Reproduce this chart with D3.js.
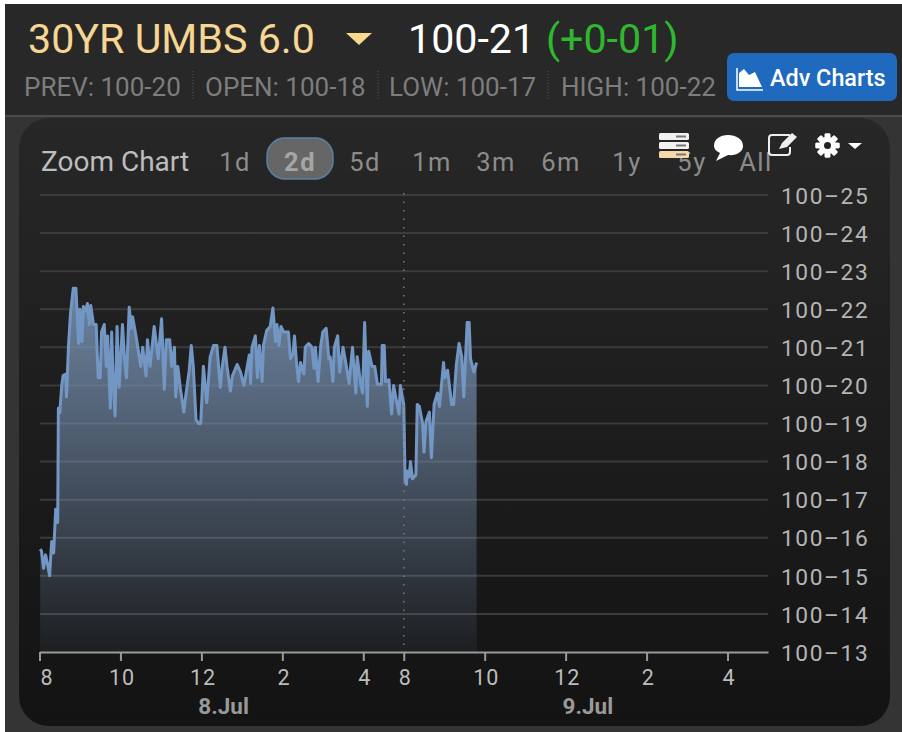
<!DOCTYPE html>
<html><head><meta charset="utf-8">
<style>html,body{margin:0;padding:0;background:#fff}svg{display:block}text{font-family:Roboto,sans-serif}</style>
<script src="https://cdnjs.cloudflare.com/ajax/libs/d3/7.8.5/d3.min.js"></script>
</head><body><div id="c"></div>
<script>
// minutes since the 8:00 open of the first session (each session 8:00-17:00 = 540 min)
const minutes=[1,3,6,9,12,15,18,21,24,27,28,30,33,35,39,40,43,46,50,54,58,60,63,65,68,71,74,76,80,84,87,90,92,96,99,101,105,107,109,112,115,118,123,126,129,133,136,138,144,150,153,158,160,164,170,176,181,185,188,193,196,200,202,205,209,214,217,222,225,228,232,236,239,243,248,253,258,263,268,271,275,278,283,286,293,298,303,311,
313,315,320,323,326,330,332,337,342,346,350,352,355,358,362,369,372,376,378,381,384,387,392,394,399,404,407,409,413,417,420,425,429,431,435,437,442,445,450,454,459,464,469,471,476,479,482,486,488,493,497,501,507,508,511,513,518,522,525,528,533,535,540,
542,544,545,548,550,553,558,560,563,568,570,573,578,581,585,590,593,599,601,605,611,614,618,622,626,629,634,637,639,644,648];
// price in 32nds above 100
const prices=[15.7,15.65,15.2,15.55,15.3,15.0,15.9,15.6,16.75,16.4,19.4,19.28,20,20.26,20.3,19.7,21.05,21.9,22.55,22.55,21.1,22,21.15,22.07,21.95,22.15,21.6,22.1,21.6,21.6,20.2,20.2,21.4,21.6,20.5,21.3,19.4,21.4,20.2,19.2,21.55,19.95,21.6,20.7,20.2,22.05,21.5,21.8,21.2,20.5,21,20.25,21.2,20.5,21.55,20.7,21.75,19.9,21.2,21.2,20.5,21,19.7,20.5,19.9,19.3,19.75,20.4,21.05,20.5,19.1,19,19,20.5,19.55,20.75,21.05,21.05,19.95,20.5,21,20.5,19.85,20.25,20.55,20.35,20,20.8,
20.05,21,21.3,20.2,21.05,20.1,21.05,21.45,21.55,22.03,21.15,21.6,21.05,21.55,21.4,21.4,20.7,20.85,21.3,20.6,20.1,20.6,20.3,21,21.1,21,20.45,21,20.1,21.05,21.4,21.5,20.7,20.75,20.1,21,21.3,20.35,21,20.6,20.05,21,19.8,20.75,20.05,19.8,21.65,19.45,20.9,20.5,20.5,20.03,20.03,21.05,21.05,20.1,20.15,19.25,20,19.7,19.25,20,19.5,
17.5,17.4,17.75,17.6,18,17.55,17.65,19.5,19.45,19,18.25,19.05,19.3,18.1,19.5,19.8,19.45,20.6,20.2,20.4,19.5,19.5,20.55,21.1,20.75,19.7,21.65,21.65,20.7,20.35,20.6];
const yTicks=[13,14,15,16,17,18,19,20,21,22,23,24,25];
const xTickMinutes=[0,120,240,360,480,540,660,780,900,1020];
const xTickLabels=["8","10","12","2","4","8","10","12","2","4"];
const days=[{label:"8.Jul",at:270},{label:"9.Jul",at:810}];
const ranges=["1d","2d","5d","1m","3m","6m","1y","5y","All"];
const rangeCenters=[235,300,365,432,496,561,627,692,756];
const stats=[["PREV: 100-20",24],["OPEN: 100-18",205],["LOW: 100-17",389],["HIGH: 100-22",561]];

const W=902,H=732;
const svg=d3.select("#c").append("svg").attr("width",W).attr("height",H);
const defs=svg.append("defs");
const pg=defs.append("linearGradient").attr("id","panel").attr("x1",0).attr("x2",0).attr("y1",0).attr("y2",1);
pg.append("stop").attr("offset",0).attr("stop-color","#272727");
pg.append("stop").attr("offset",1).attr("stop-color","#131313");
const ag=defs.append("linearGradient").attr("id","area").attr("gradientUnits","userSpaceOnUse")
 .attr("x1",0).attr("x2",0).attr("y1",288).attr("y2",652);
ag.append("stop").attr("offset",0).attr("stop-color","#7a95b8").attr("stop-opacity",.85);
ag.append("stop").attr("offset",1).attr("stop-color","#7a95b8").attr("stop-opacity",.07);
defs.append("filter").attr("id","soft").append("feGaussianBlur").attr("stdDeviation",0.45);

svg.append("rect").attr("x",5).attr("y",4).attr("width",W-5).attr("height",H-4).attr("fill","#282828");
svg.append("rect").attr("x",5).attr("y",116).attr("width",W-5).attr("height",H-116).attr("fill","#343434");
svg.append("rect").attr("x",5).attr("y",115).attr("width",W-5).attr("height",2).attr("fill","#4c4c4c");
svg.append("rect").attr("x",19).attr("y",118).attr("width",871).attr("height",608).attr("rx",30).attr("fill","url(#panel)");

// header
const T=(x,y,s,size,fill,extra={})=>{const t=svg.append("text").attr("x",x).attr("y",y).attr("font-size",size).attr("fill",fill).text(s);
 for(const k in extra)t.attr(k,extra[k]);return t;};
T(28,53,"30YR UMBS 6.0",41.2,"#f7d694");
svg.append("path").attr("d","M346 33H372L359 45Z").attr("fill","#fad98f");
T(408,53,"100-21",41.2,"#ffffff");
T(546,53,"(+0-01)",41.2,"#2fb82f");
stats.forEach(d=>T(d[1],96,d[0],26,"#7d7d7d"));
[193,378,548].forEach(x=>svg.append("line").attr("x1",x).attr("x2",x).attr("y1",71).attr("y2",101).attr("stroke","#555").attr("stroke-dasharray","1 2"));
svg.append("rect").attr("x",727).attr("y",53).attr("width",170).attr("height",48).attr("rx",7).attr("fill","#1f69bf");
svg.append("path").attr("d","M737 68V90H763").attr("fill","none").attr("stroke","#fff").attr("stroke-width",1.5);
svg.append("path").attr("d","M739 87V73L744 69L749 75L755 72L762 87Z").attr("fill","#fff");
T(770,86,"Adv Charts",23.4,"#fff",{"font-weight":500});

// range selector
T(41,171,"Zoom Chart",28,"#bdbdbd");
svg.append("rect").attr("x",267).attr("y",138).attr("width",66).attr("height",41).attr("rx",18).attr("fill","#666").attr("stroke","#5a80a6").attr("stroke-width",1.5);
ranges.forEach((r,i)=>T(rangeCenters[i],171,r,25.5,i==1?"#a5a5a5":"#8c8c8c",{"text-anchor":"middle","letter-spacing":1.5,"font-weight":i==1?700:400}));

// chart
const x=d3.scaleLinear().domain([0,1080]).range([39.5,768]);
const y=d3.scaleLinear().domain([13,25]).range([652,195]);
const points=minutes.map((m,i)=>({m,v:prices[i]}));

const area=d3.area().x(d=>x(d.m)).y0(y(13)).y1(d=>y(d.v));
const line=d3.line().x(d=>x(d.m)).y(d=>y(d.v));

const yAxis=d3.axisRight(y).tickValues(yTicks).tickSize(0).tickPadding(0).tickFormat(d=>"100–"+d);
const gy=svg.append("g").attr("transform","translate(781,0)").call(yAxis);
gy.select(".domain").remove();
gy.selectAll("text").attr("font-size",22.7).attr("fill","#b5b5b5").attr("letter-spacing",1.6).attr("font-family","Roboto,sans-serif").attr("dy","0.36em");

svg.append("g").selectAll("line").data(yTicks.filter(d=>d!=13)).join("line")
 .attr("x1",40).attr("x2",768).attr("y1",d=>y(d)).attr("y2",d=>y(d)).attr("stroke","#3b3b3b").attr("stroke-width",2);

svg.append("path").datum(points).attr("d",area).attr("fill","url(#area)");
svg.append("path").datum(points).attr("d",line).attr("fill","none").attr("stroke","#7397c4").attr("stroke-width",3).attr("stroke-linejoin","round").attr("filter","url(#soft)");

svg.append("line").attr("x1",x(540)).attr("x2",x(540)).attr("y1",193).attr("y2",652).attr("stroke","#7a7a7a").attr("stroke-width",1.5).attr("stroke-dasharray","1.5 7");

const xAxis=d3.axisBottom(x).tickValues(xTickMinutes).tickSizeOuter(0).tickSizeInner(9).tickPadding(9)
 .tickFormat((d,i)=>xTickLabels[i]);
const gx=svg.append("g").attr("transform","translate(0,652)").call(xAxis);
gx.select(".domain").attr("stroke","#9a9a9a").attr("stroke-width",2);
gx.selectAll("line").attr("stroke","#9a9a9a").attr("stroke-width",2);
gx.selectAll("text").attr("font-size",21.5).attr("fill","#bcbcbc").attr("font-family","Roboto,sans-serif").attr("letter-spacing",0.8)
 .attr("dx",(d,i)=>i==0?7:1);

days.forEach(d=>T(x(d.at)+2,714,d.label,22.5,"#999",{"text-anchor":"middle","font-weight":700}));

// toolbar icons
const ic=svg.append("g").attr("fill","#fff");
[133,142,151].forEach((yy,i)=>{ic.append("rect").attr("x",659).attr("y",yy).attr("width",30).attr("height",7).attr("rx",1.5).attr("fill",i==2?"#f1d9a8":"#f2f2f2");
 ic.append("rect").attr("x",676).attr("y",yy+2.5).attr("width",10).attr("height",2).attr("fill","#777");});
ic.append("path").attr("d","M728 135C736 135 743 139 743 146C743 152 736 156 728 155L716 161L720 153C716 151 714 149 714 146C714 139 720 135 728 135Z");
svg.append("path").attr("d","M790 135H772Q769 135 769 138V152Q769 155 772 155H787Q790 155 790 152V147").attr("fill","none").attr("stroke","#eee").attr("stroke-width",2);
svg.append("path").attr("d","M779 149L782 143L792 133L797 137L787 147Z").attr("fill","#eee");
const gear=svg.append("g").attr("transform","translate(827.5,145.5)");
d3.range(8).forEach(i=>gear.append("rect").attr("x",-2.8).attr("y",-12).attr("width",5.6).attr("height",24).attr("rx",1).attr("fill","#fff").attr("transform",`rotate(${i*45})`));
gear.append("circle").attr("r",8.5).attr("fill","#fff");
gear.append("circle").attr("r",3.5).attr("fill","#222");
svg.append("path").attr("d","M848 143H862L855 149Z").attr("fill","#fff");
</script></body></html>
